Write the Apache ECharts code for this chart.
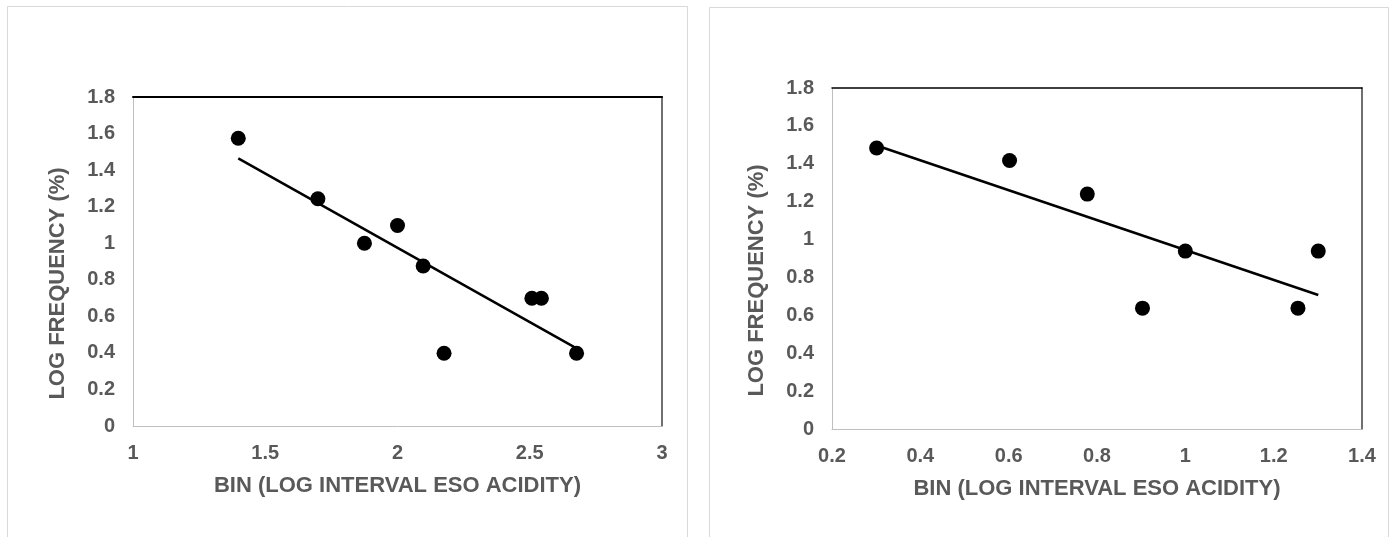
<!DOCTYPE html>
<html>
<head>
<meta charset="utf-8">
<script src="https://cdn.jsdelivr.net/npm/echarts@6/dist/echarts.min.js"></script>
<style>
html,body{margin:0;padding:0;background:#fff;}
#chart{width:1396px;height:537px;}
</style>
</head>
<body>
<div id="chart"></div>
<script>
// Left panel data (log bin vs log frequency %)
const leftX = [1.398, 1.699, 1.875, 2.0, 2.097, 2.176, 2.508, 2.544, 2.677];
const leftY = [1.574, 1.243, 1.0, 1.097, 0.875, 0.398, 0.699, 0.699, 0.398];
// Right panel data
const rightX = [0.301, 0.602, 0.778, 0.903, 1.0, 1.255, 1.301];
const rightY = [1.483, 1.417, 1.240, 0.638, 0.939, 0.638, 0.939];
// Axis ranges
const leftXRange = [1, 3, 0.5];
const rightXRange = [0.2, 1.4, 0.2];
const yRange = [0, 1.8, 0.2];
const xTitle = 'BIN (LOG INTERVAL ESO ACIDITY)';
const yTitle = 'LOG FREQUENCY (%)';

function pairs(xs, ys) { return xs.map((x, i) => [x, ys[i]]); }
function linearFit(xs, ys) {
  const n = xs.length;
  const mx = xs.reduce((a, b) => a + b, 0) / n;
  const my = ys.reduce((a, b) => a + b, 0) / n;
  let sxy = 0, sxx = 0;
  for (let i = 0; i < n; i++) { sxy += (xs[i] - mx) * (ys[i] - my); sxx += (xs[i] - mx) ** 2; }
  const b = sxy / sxx, a = my - b * mx;
  const x0 = Math.min(...xs), x1 = Math.max(...xs);
  return [[x0, a + b * x0], [x1, a + b * x1]];
}

const FONT = '"Liberation Sans", Arial, sans-serif';
const labelStyle = { color: '#595959', fontWeight: 'bold', fontSize: 20, fontFamily: FONT };
const nameStyle = { color: '#595959', fontWeight: 'bold', fontSize: 22, fontFamily: FONT };
const grey = '#bfbfbf';

function bottomXAxis(gi, r) {
  return {
    type: 'value', gridIndex: gi, min: r[0], max: r[1], interval: r[2], position: 'bottom',
    axisLine: { show: true, lineStyle: { color: grey, width: 1 } },
    axisTick: { show: false }, splitLine: { show: false },
    axisLabel: Object.assign({ margin: 17 }, labelStyle),
    name: xTitle, nameLocation: 'middle', nameGap: 49, nameTextStyle: nameStyle
  };
}
function topXAxis(gi, r, w) {
  return {
    type: 'value', gridIndex: gi, min: r[0], max: r[1], interval: r[2], position: 'top',
    axisLine: { show: true, onZero: false, lineStyle: { color: '#000', width: w } },
    axisTick: { show: false }, splitLine: { show: false }, axisLabel: { show: false }
  };
}
function leftYAxis(gi) {
  return {
    type: 'value', gridIndex: gi, min: yRange[0], max: yRange[1], interval: yRange[2], position: 'left',
    axisLine: { show: true, lineStyle: { color: grey, width: 1 } },
    axisTick: { show: false }, splitLine: { show: false },
    axisLabel: Object.assign({ margin: 18 }, labelStyle),
    name: yTitle, nameLocation: 'middle', nameGap: 64, nameRotate: 90,
    nameTextStyle: Object.assign({ padding: [0, 44, 0, 0] }, nameStyle)
  };
}
function rightYAxis(gi) {
  return {
    type: 'value', gridIndex: gi, min: yRange[0], max: yRange[1], interval: yRange[2], position: 'right',
    axisLine: { show: true, onZero: false, lineStyle: { color: '#404040', width: 1.5 } },
    axisTick: { show: false }, splitLine: { show: false }, axisLabel: { show: false }
  };
}

const chart = echarts.init(document.getElementById('chart'), null, { renderer: 'canvas' });
chart.setOption({
  animation: false,
  backgroundColor: '#fff',
  graphic: [
    { type: 'rect', shape: { x: 7.5, y: 6.5, width: 680, height: 560 }, style: { fill: 'none', stroke: '#d9d9d9', lineWidth: 1 }, silent: true, z: -10 },
    { type: 'rect', shape: { x: 709.5, y: 7.5, width: 679, height: 560 }, style: { fill: 'none', stroke: '#d9d9d9', lineWidth: 1 }, silent: true, z: -10 }
  ],
  grid: [
    { left: 133, top: 97, width: 529, height: 329 },
    { left: 832, top: 88, width: 530, height: 341 }
  ],
  xAxis: [bottomXAxis(0, leftXRange), topXAxis(0, leftXRange, 2), bottomXAxis(1, rightXRange), topXAxis(1, rightXRange, 1.5)],
  yAxis: [leftYAxis(0), rightYAxis(0), leftYAxis(1), rightYAxis(1)],
  series: [
    { type: 'line', xAxisIndex: 0, yAxisIndex: 0, data: linearFit(leftX, leftY), showSymbol: false, lineStyle: { color: '#000', width: 2.5 }, z: 2 },
    { type: 'scatter', xAxisIndex: 0, yAxisIndex: 0, data: pairs(leftX, leftY), symbol: 'circle', symbolSize: 15, itemStyle: { color: '#000', opacity: 1 }, z: 3 },
    { type: 'line', xAxisIndex: 2, yAxisIndex: 2, data: linearFit(rightX, rightY), showSymbol: false, lineStyle: { color: '#000', width: 2.5 }, z: 2 },
    { type: 'scatter', xAxisIndex: 2, yAxisIndex: 2, data: pairs(rightX, rightY), symbol: 'circle', symbolSize: 15, itemStyle: { color: '#000', opacity: 1 }, z: 3 }
  ]
});
</script>
</body>
</html>
